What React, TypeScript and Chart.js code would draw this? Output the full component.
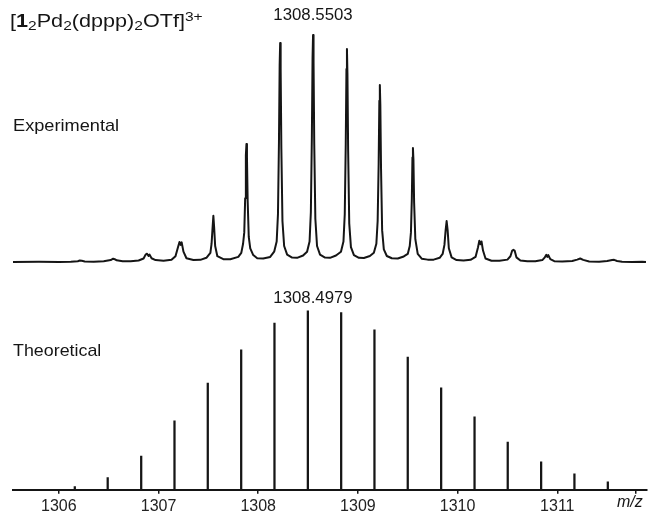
import React, { useEffect, useRef } from "react";
import { Chart, registerables } from "chart.js";

Chart.register(...registerables);

// ---- data ----
const xTicks = [1306, 1307, 1308, 1309, 1310, 1311];
const xEndTick = 1311.79; // unlabeled tick at the right end of the axis

// theoretical isotope pattern (relative intensity, %)
const theoMz = [
  1306.16, 1306.49, 1306.826, 1307.16, 1307.494, 1307.829, 1308.163, 1308.4979,
  1308.832, 1309.166, 1309.5, 1309.835, 1310.17, 1310.503, 1310.838, 1311.172, 1311.507,
];
const theoIntensity = [
  1.8, 6.8, 18.9, 38.5, 59.6, 78.2, 93.2, 100, 99.0, 89.4, 74.1, 57.0, 40.8, 26.6, 15.6, 8.9, 4.5,
];

// experimental trace: [m/z, relative intensity %]
const experimentalTrace: [number, number][] = [
  [1305.54, 0], [1305.8, 0.1], [1306.0, 0], [1306.12, 0.1],
  [1306.19, 0.3], [1306.21, 0.6], [1306.23, 0.5], [1306.26, 0.2], [1306.35, 0.1], [1306.45, 0.3],
  [1306.52, 0.8], [1306.545, 1.4], [1306.56, 1.2], [1306.58, 0.7], [1306.64, 0.3], [1306.72, 0.3], [1306.8, 0.6],
  [1306.85, 1.5], [1306.87, 3.2], [1306.885, 3.6], [1306.9, 2.6], [1306.91, 3.2], [1306.93, 1.6], [1306.97, 0.8], [1307.05, 0.5], [1307.13, 0.9],
  [1307.17, 2.5], [1307.195, 6.5], [1307.21, 8.8], [1307.222, 7.5], [1307.232, 8.6], [1307.25, 4.5], [1307.28, 1.6], [1307.35, 0.8], [1307.42, 0.9], [1307.48, 1.8],
  [1307.52, 4], [1307.532, 8], [1307.542, 15], [1307.55, 20.3], [1307.558, 15], [1307.568, 7], [1307.59, 2.5], [1307.65, 1.2], [1307.72, 1.2], [1307.8, 2.2],
  [1307.83, 4], [1307.848, 8], [1307.86, 13], [1307.869, 28], [1307.876, 47], [1307.882, 52], [1307.887, 46], [1307.894, 27], [1307.905, 11], [1307.92, 6], [1307.95, 3], [1307.99, 1.6], [1308.05, 1.5], [1308.12, 2.2],
  [1308.16, 4.5], [1308.185, 9], [1308.198, 21], [1308.208, 53], [1308.215, 87], [1308.22, 96.5], [1308.225, 85], [1308.232, 50], [1308.243, 18], [1308.26, 7], [1308.29, 3.2], [1308.34, 1.9], [1308.39, 1.8], [1308.45, 2.8],
  [1308.49, 4.5], [1308.515, 9], [1308.528, 22], [1308.538, 55], [1308.545, 90], [1308.55, 100], [1308.555, 88], [1308.562, 52], [1308.573, 19], [1308.59, 7], [1308.62, 3.2], [1308.67, 1.9], [1308.72, 1.8], [1308.78, 2.8],
  [1308.83, 4.5], [1308.855, 9], [1308.868, 21], [1308.878, 52], [1308.885, 85], [1308.89, 93.8], [1308.895, 83], [1308.902, 49], [1308.913, 17], [1308.93, 6.5], [1308.96, 3], [1309.01, 1.8], [1309.06, 1.7], [1309.12, 2.6],
  [1309.16, 4], [1309.185, 8], [1309.198, 18], [1309.208, 43], [1309.215, 71], [1309.22, 78], [1309.225, 69], [1309.232, 41], [1309.243, 14], [1309.26, 5.5], [1309.29, 2.6], [1309.34, 1.6], [1309.4, 1.5], [1309.46, 2.4],
  [1309.5, 3.5], [1309.52, 7], [1309.532, 13], [1309.541, 28], [1309.547, 46], [1309.552, 50.2], [1309.557, 45], [1309.564, 26], [1309.576, 10], [1309.6, 3.5], [1309.64, 1.4], [1309.7, 1.0], [1309.76, 1.0], [1309.82, 1.8],
  [1309.85, 3.5], [1309.868, 7.5], [1309.88, 14], [1309.89, 18], [1309.9, 14], [1309.912, 6], [1309.94, 2], [1309.99, 0.8], [1310.06, 0.6], [1310.13, 0.9],
  [1310.18, 2.2], [1310.205, 6.5], [1310.218, 9.3], [1310.23, 7.8], [1310.24, 9], [1310.255, 5], [1310.28, 1.5], [1310.34, 0.5], [1310.42, 0.5], [1310.5, 1],
  [1310.53, 2.5], [1310.548, 5], [1310.56, 5.3], [1310.572, 5], [1310.59, 2], [1310.63, 0.6], [1310.7, 0.3], [1310.78, 0.3], [1310.85, 0.8],
  [1310.875, 2], [1310.89, 3.1], [1310.9, 2.2], [1310.91, 3], [1310.93, 1.2], [1310.97, 0.3], [1311.05, 0.2], [1311.15, 0.4],
  [1311.2, 1], [1311.23, 1.5], [1311.26, 0.9], [1311.32, 0.2], [1311.42, 0.1], [1311.5, 0.4],
  [1311.55, 0.8], [1311.57, 0.9], [1311.6, 0.4], [1311.65, 0.1], [1311.75, 0], [1311.85, 0.1], [1311.89, 0],
];

const xMin = 1305.54;
const xMax = 1311.9;

const INK = "#151515";
const FONT = "'Liberation Sans', Arial, Helvetica, sans-serif";

const Sub = ({ children }: { children: React.ReactNode }) => (
  <span style={{ fontSize: "0.72em", position: "relative", top: "0.28em", lineHeight: 0 }}>{children}</span>
);
const Sup = ({ children }: { children: React.ReactNode }) => (
  <span style={{ fontSize: "0.72em", position: "relative", top: "-0.45em", lineHeight: 0 }}>{children}</span>
);

function Label(props: {
  left: number;
  baseline: number;
  size: number;
  center?: boolean;
  scaleX?: number;
  italic?: boolean;
  children: React.ReactNode;
}) {
  const { left, baseline, size, center, scaleX = 1, italic, children } = props;
  const top = baseline - 0.847 * size;
  const tf = center ? `translateX(-50%) scaleX(${scaleX})` : `scaleX(${scaleX})`;
  return (
    <div
      style={{
        position: "absolute",
        left,
        top,
        fontFamily: FONT,
        fontSize: size,
        lineHeight: 1,
        whiteSpace: "nowrap",
        color: INK,
        fontStyle: italic ? "italic" : "normal",
        transform: tf,
        transformOrigin: center ? "center" : "left",
      }}
    >
      {children}
    </div>
  );
}

export default function App() {
  const canvasRef = useRef<HTMLCanvasElement | null>(null);

  useEffect(() => {
    document.body.style.margin = "0";
    const canvas = canvasRef.current;
    if (!canvas) return;
    const chart = new Chart(canvas, {
      type: "bar",
      data: {
        datasets: [
          {
            type: "line",
            label: "Experimental",
            data: experimentalTrace.map(([x, y]) => ({ x, y })),
            yAxisID: "yExp",
            borderColor: INK,
            borderWidth: 2,
            borderJoinStyle: "round",
            pointRadius: 0,
            tension: 0,
            fill: false,
          } as any,
          {
            type: "bar",
            label: "Theoretical",
            data: theoMz.map((x, i) => ({ x, y: theoIntensity[i] })),
            yAxisID: "yTh",
            backgroundColor: INK,
            barThickness: 1.6,
            grouped: false,
          } as any,
        ],
      },
      options: {
        responsive: false,
        animation: false,
        layout: { padding: { left: 13, right: 1, top: 0, bottom: 0 } },
        plugins: { legend: { display: false }, tooltip: { enabled: false } },
        scales: {
          x: {
            type: "linear",
            min: xMin,
            max: xMax,
            offset: false,
            afterBuildTicks: (axis: any) => {
              axis.ticks = [...xTicks, xEndTick].map((value) => ({ value }));
            },
            grid: {
              display: true,
              offset: false,
              drawOnChartArea: false,
              drawTicks: true,
              tickLength: 4,
              color: INK,
              lineWidth: 1.5,
            },
            border: { display: true, color: INK, width: 2 },
            ticks: {
              color: "#222",
              font: { family: FONT, size: 16 },
              padding: 3,
              maxRotation: 0,
              autoSkip: false,
              callback: (v: any) => (xTicks.includes(v) ? String(v) : ""),
            },
          },
          yExp: {
            type: "linear",
            display: false,
            min: -100.44,
            max: 115.42,
          },
          yTh: {
            type: "linear",
            display: false,
            min: 0,
            max: 273.7,
          },
        },
      } as any,
    });
    return () => chart.destroy();
  }, []);

  return (
    <div style={{ position: "relative", width: 648, height: 511, overflow: "hidden", background: "#fff" }}>
      <canvas ref={canvasRef} width={648} height={519} style={{ position: "absolute", left: 0, top: 0 }} />
      <Label left={10} baseline={27} size={18} scaleX={1.2}>
        [<b>1</b>
        <Sub>2</Sub>Pd<Sub>2</Sub>(dppp)<Sub>2</Sub>OTf]<Sup>3+</Sup>
      </Label>
      <Label left={313} baseline={21} size={16} center scaleX={1.05}>
        1308.5503
      </Label>
      <Label left={13} baseline={131} size={17} scaleX={1.07}>
        Experimental
      </Label>
      <Label left={313} baseline={304} size={16} center scaleX={1.05}>
        1308.4979
      </Label>
      <Label left={13} baseline={356} size={17} scaleX={1.05}>
        Theoretical
      </Label>
      <Label left={617} baseline={508} size={16} italic>
        m/z
      </Label>
    </div>
  );
}
